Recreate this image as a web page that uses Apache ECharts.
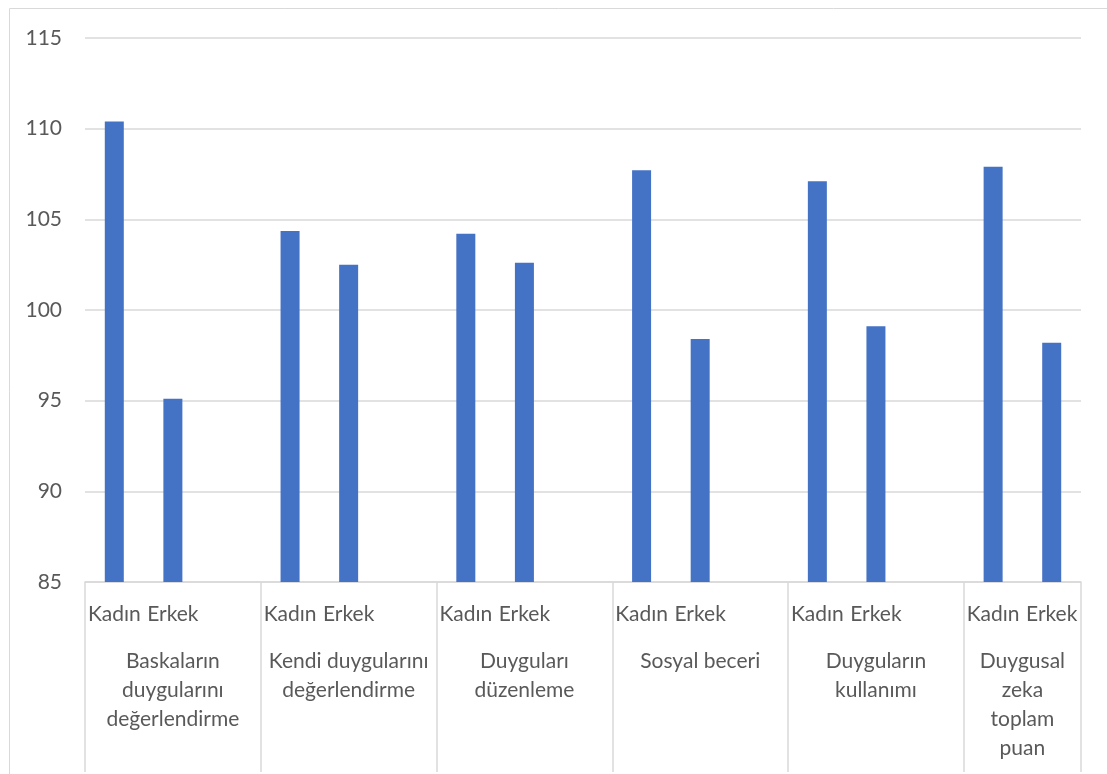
<!DOCTYPE html>
<html>
<head>
<meta charset="utf-8">
<script src="https://cdn.jsdelivr.net/npm/echarts@6/dist/echarts.min.js"></script>
<style>
  html, body { margin: 0; padding: 0; background: #fff; }
  #chart { width: 1107px; height: 774px; }
</style>
</head>
<body>
<div id="chart"></div>
<script>
// alt kategoriler (her grupta Kadın, Erkek ve bir boş sütun)
var subCategories = ['Kadın', 'Erkek', '', 'Kadın', 'Erkek', '', 'Kadın', 'Erkek', '',
  'Kadın', 'Erkek', '', 'Kadın', 'Erkek', '', 'Kadın', 'Erkek']
// ana gruplar
var groupNames = ['Baskaların\nduygularını\ndeğerlendirme', 'Kendi duygularını\ndeğerlendirme',
  'Duyguları\ndüzenleme', 'Sosyal beceri', 'Duyguların\nkullanımı', 'Duygusal\nzeka\ntoplam\npuan']
// grup ortalarının yarım-sütun konumları
var groupCenters = [3, 9, 15, 21, 27, 32]
// puanlar
var values = [110.4, 95.1, null, 104.35, 102.5, null, 104.2, 102.6, null,
  107.7, 98.4, null, 107.1, 99.1, null, 107.9, 98.2]
var yTicks = { min: 85, max: 115, step: 5 }

var groupAxisData = []
for (var i = 0; i < 35; i++) groupAxisData.push('')
groupCenters.forEach(function (c, k) { groupAxisData[c] = groupNames[k] })

var font = 'Lato, "Liberation Sans", sans-serif'
var myChart = echarts.init(document.getElementById('chart'))
var option = {
  backgroundColor: '#fff',
  animation: false,
  graphic: [{
    type: 'rect', silent: true,
    shape: { x: 9.5, y: 8.5, width: 1120, height: 800 },
    style: { fill: 'none', stroke: '#d9d9d9', lineWidth: 1 }
  }],
  grid: { left: 85, right: 26, top: 38, bottom: 192 },
  xAxis: [{
    type: 'category',
    data: subCategories,
    position: 'bottom',
    axisLine: { show: true, lineStyle: { color: '#d9d9d9', width: 1.5 } },
    axisTick: {
      show: true,
      length: 190,
      interval: function (idx) { return idx % 3 === 0 },
      lineStyle: { color: '#d9d9d9', width: 1.5 }
    },
    axisLabel: { interval: 0, margin: 22, color: '#595959', fontSize: 21, fontFamily: font },
    splitLine: { show: false }
  }, {
    type: 'category',
    data: groupAxisData,
    boundaryGap: false,
    position: 'bottom',
    axisLine: { show: false },
    axisTick: { show: false },
    axisLabel: {
      interval: 0, margin: 65, color: '#595959', fontSize: 21, fontFamily: font,
      lineHeight: 29, align: 'center'
    },
    splitLine: { show: false }
  }],
  yAxis: {
    type: 'value',
    min: yTicks.min,
    max: yTicks.max,
    interval: yTicks.step,
    axisLine: { show: false },
    axisTick: { show: false },
    axisLabel: { margin: 23, color: '#595959', fontSize: 21, fontFamily: font },
    splitLine: { lineStyle: { color: '#d9d9d9', width: 1.5 } }
  },
  series: [{
    type: 'bar',
    xAxisIndex: 0,
    data: values,
    barWidth: 19,
    itemStyle: { color: '#4472c4' }
  }]
}
myChart.setOption(option)
</script>
</body>
</html>
